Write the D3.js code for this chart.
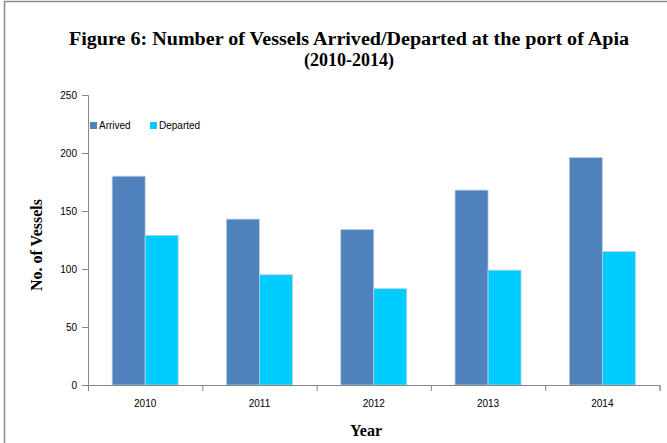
<!DOCTYPE html>
<html>
<head>
<meta charset="utf-8">
<script src="https://cdn.jsdelivr.net/npm/d3@7"></script>
<style>
  body { margin: 0; background: #fff; }
  .tick text { font-family: "Liberation Sans", Arial, sans-serif; font-size: 10px; fill: #000; }
</style>
</head>
<body>
<div id="chart"></div>
<script>
// chart data
var years = ["2010", "2011", "2012", "2013", "2014"];
var arrived = [180, 143, 134, 168, 196];
var departed = [129, 95, 83, 99, 115];
var seriesNames = ["Arrived", "Departed"];
var yTicks = [0, 50, 100, 150, 200, 250];

var svgWidth = 667;
var svgHeight = 443;

var margin = { top: 95, right: 8, bottom: 58, left: 88 };
var chartWidth = 659.5 - margin.left;
var chartHeight = 385 - margin.top;

var colors = ["#4F81BD", "#00CCFF"];

var svg = d3.select("#chart")
    .append("svg")
    .attr("width", svgWidth)
    .attr("height", svgHeight);

// outer frame
svg.append("path")
    .attr("d", "M4.5,443 V1.5 H667")
    .attr("fill", "none")
    .attr("stroke", "#8c8c8c")
    .attr("stroke-width", 1.5);

// title
var title = svg.append("text")
    .attr("text-anchor", "middle")
    .attr("font-family", "Liberation Serif, serif")
    .attr("font-weight", "bold")
    .attr("font-size", "18px");
title.append("tspan")
    .attr("x", 349).attr("y", 45)
    .attr("textLength", 560)
    .attr("lengthAdjust", "spacingAndGlyphs")
    .text("Figure 6: Number  of Vessels Arrived/Departed at the port of Apia");
title.append("tspan")
    .attr("x", 349).attr("y", 66)
    .text("(2010-2014)");

var chartGroup = svg.append("g")
    .attr("transform", `translate(${margin.left}, ${margin.top})`);

var x0 = d3.scaleBand()
    .domain(years)
    .range([0, chartWidth]);

var x1 = d3.scaleBand()
    .domain(seriesNames)
    .range([x0.bandwidth() / 2 - 33, x0.bandwidth() / 2 + 33]);

var y = d3.scaleLinear()
    .domain([0, 250])
    .range([chartHeight, 0]);

// y axis
var yAxis = chartGroup.append("g")
    .call(d3.axisLeft(y).tickValues(yTicks).tickSize(6).tickPadding(5));
yAxis.select(".domain").attr("stroke", "#868686");
yAxis.selectAll(".tick line").attr("stroke", "#868686");

// bars
var rows = years.map(function (yr, i) {
    return { year: yr, values: [arrived[i], departed[i]] };
});

var groups = chartGroup.append("g")
    .selectAll("g")
    .data(rows)
    .enter()
    .append("g")
    .attr("transform", d => `translate(${x0(d.year)},0)`);

groups.selectAll("rect")
    .data(d => d.values.map((v, j) => ({ name: seriesNames[j], value: v, idx: j })))
    .enter()
    .append("rect")
    .attr("x", d => x1(d.name))
    .attr("width", x1.bandwidth())
    .attr("y", d => y(d.value))
    .attr("height", d => chartHeight - y(d.value))
    .attr("fill", d => colors[d.idx])
    .attr("stroke", "#b9cde5")
    .attr("stroke-width", 0.8);

// x axis
var xAxisScale = d3.scaleLinear().domain([0, 5]).range([0, chartWidth]);
var xAxis = chartGroup.append("g")
    .attr("transform", `translate(0, ${chartHeight})`)
    .call(d3.axisBottom(xAxisScale).ticks(5).tickSize(6).tickFormat(""));
xAxis.select(".domain").attr("stroke", "#868686");
xAxis.selectAll(".tick line").attr("stroke", "#868686");

chartGroup.append("g")
    .selectAll("text")
    .data(years)
    .enter()
    .append("text")
    .attr("x", d => x0(d) + x0.bandwidth() / 2)
    .attr("y", chartHeight + 22)
    .attr("text-anchor", "middle")
    .attr("font-family", "Liberation Sans, Arial, sans-serif")
    .attr("font-size", "10px")
    .text(d => d);

// legend
var legend = chartGroup.append("g")
    .attr("transform", "translate(2, 27)");
var legendX = [0, 60];
seriesNames.forEach(function (name, i) {
    legend.append("rect")
        .attr("x", legendX[i])
        .attr("y", 0)
        .attr("width", 7)
        .attr("height", 7)
        .attr("fill", colors[i]);
    legend.append("text")
        .attr("x", legendX[i] + 9)
        .attr("y", 7)
        .attr("font-family", "Liberation Sans, Arial, sans-serif")
        .attr("font-size", "10px")
        .text(name);
});

// axis titles
svg.append("text")
    .attr("transform", "translate(42, 245) rotate(-90)")
    .attr("text-anchor", "middle")
    .attr("font-family", "Liberation Serif, serif")
    .attr("font-weight", "bold")
    .attr("font-size", "16px")
    .text("No. of Vessels");

svg.append("text")
    .attr("x", 366)
    .attr("y", 436)
    .attr("text-anchor", "middle")
    .attr("font-family", "Liberation Serif, serif")
    .attr("font-weight", "bold")
    .attr("font-size", "16px")
    .text("Year");
</script>
</body>
</html>
